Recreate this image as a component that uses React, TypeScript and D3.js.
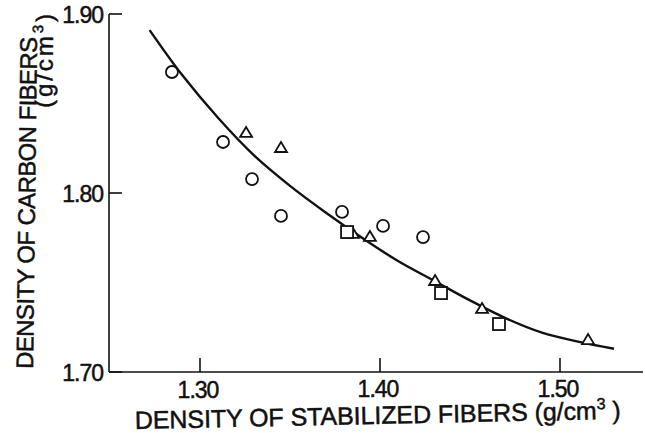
import React from "react";
import * as d3 from "d3";

const xTicks = [1.3, 1.4, 1.5];
const yTicks = [1.7, 1.8, 1.9];
const xTickLabels = ["1.30", "1.40", "1.50"];
const yTickLabels = ["1.70", "1.80", "1.90"];

const circleX = [1.2844, 1.3128, 1.3289, 1.345, 1.3789, 1.4017, 1.4239];
const circleY = [1.8676, 1.8285, 1.8078, 1.7872, 1.7894, 1.7816, 1.7754];

const triangleX = [1.3256, 1.345, 1.385, 1.3944, 1.4306, 1.4567, 1.5156];
const triangleY = [1.8341, 1.8257, 1.7777, 1.776, 1.7514, 1.7358, 1.7184];

const squareX = [1.3817, 1.4339, 1.4661];
const squareY = [1.7782, 1.7441, 1.7268];

const curveX = [1.272, 1.29, 1.31, 1.33, 1.35, 1.37, 1.39, 1.41, 1.43, 1.45, 1.47, 1.49, 1.51, 1.53];
const curveY = [1.891, 1.866, 1.842, 1.821, 1.804, 1.789, 1.775, 1.762, 1.751, 1.74, 1.73, 1.722, 1.717, 1.713];

const xTitleMain = "DENSITY OF  STABILIZED  FIBERS (g/cm";
const yTitle1 = "DENSITY OF CARBON FIBERS";
const yTitle2 = "(g/cm";
const sup = "3";
const closeParen = ")";

export default function App() {
  const W = 645;
  const H = 433;
  const x = d3.scaleLinear().domain([1.3, 1.5]).range([200, 560]);
  const y = d3.scaleLinear().domain([1.7, 1.9]).range([372, 14]);
  const x0 = 109;
  const xEnd = 643;
  const y0 = 372;

  const line = d3
    .line<number>()
    .x((_, i) => x(curveX[i]))
    .y((d) => y(d))
    .curve(d3.curveCatmullRom.alpha(0.5));

  const font = "'Liberation Sans', Arial, sans-serif";
  const stroke = "#111";
  const tStroke = { stroke: stroke, strokeWidth: 0.5 };

  const tri = (cx: number, cy: number) => {
    const s = 12;
    const h = 10;
    return `M${cx - s / 2},${cy + h / 2} L${cx + s / 2},${cy + h / 2} L${cx},${cy - h / 2} Z`;
  };

  return (
    <svg
      width={W}
      height={H}
      style={{ position: "absolute", left: 0, top: 0, background: "#fff" }}
      fontFamily={font}
    >
      <rect width={W} height={H} fill="#fff" />
      {/* axes */}
      <line x1={x0} y1={y(1.9)} x2={x0} y2={y0} stroke={stroke} strokeWidth={1.6} />
      <line x1={x0} y1={y0} x2={xEnd} y2={y0} stroke={stroke} strokeWidth={1.6} />
      {yTicks.map((t, i) => (
        <g key={"yt" + i}>
          <line x1={x0} x2={x0 + 13} y1={y(t)} y2={y(t)} stroke={stroke} strokeWidth={1.6} />
          <text
            x={103}
            y={y(t) + 8.5}
            textAnchor="end"
            fontSize={23}
            fill={stroke}
            letterSpacing={-1}
            {...tStroke}
          >
            {yTickLabels[i]}
          </text>
        </g>
      ))}
      {xTicks.map((t, i) => (
        <g key={"xt" + i}>
          <line x1={x(t)} x2={x(t)} y1={y0} y2={y0 - 14} stroke={stroke} strokeWidth={1.6} />
          <text
            x={x(t) - 2}
            y={397 + (i === 0 ? 1 : 0)}
            textAnchor="middle"
            fontSize={23}
            fill={stroke}
            letterSpacing={-1}
            {...tStroke}
          >
            {xTickLabels[i]}
          </text>
        </g>
      ))}
      {/* x title (slightly skewed like the scanned original) */}
      <text
        transform="translate(135,429) rotate(-1.2)"
        fontSize={25}
        fill={stroke}
        textLength={486}
        lengthAdjust="spacing"
        {...tStroke}
      >
        <tspan>{xTitleMain}</tspan>
        <tspan fontSize={16} dy={-10}>{sup}</tspan>
        <tspan dy={10}>{" " + closeParen}</tspan>
      </text>

      {/* y title */}
      <text
        transform="translate(33,369) rotate(-89.3)"
        fontSize={24}
        fill={stroke}
        textLength={332}
        lengthAdjust="spacing"
        {...tStroke}
      >
        {yTitle1}
      </text>
      <text
        transform="translate(52,108) rotate(-89.3)"
        fontSize={24}
        fill={stroke}
        textLength={94}
        lengthAdjust="spacing"
        {...tStroke}
      >
        <tspan>{yTitle2}</tspan>
        <tspan fontSize={15} dy={-10}>{sup}</tspan>
        <tspan dy={10}>{closeParen}</tspan>
      </text>

      {/* fitted curve */}
      <path d={line(curveY) || ""} fill="none" stroke={stroke} strokeWidth={2.4} />

      {/* markers */}
      {circleX.map((v, i) => (
        <circle
          key={"c" + i}
          cx={x(v)}
          cy={y(circleY[i])}
          r={6}
          fill="#fff"
          stroke={stroke}
          strokeWidth={1.8}
        />
      ))}
      {triangleX.map((v, i) => (
        <path key={"t" + i} d={tri(x(v), y(triangleY[i]))} fill="#fff" stroke={stroke} strokeWidth={1.8} />
      ))}
      {squareX.map((v, i) => (
        <rect
          key={"s" + i}
          x={x(v) - 6}
          y={y(squareY[i]) - 6}
          width={12}
          height={12}
          fill="#fff"
          stroke={stroke}
          strokeWidth={1.8}
        />
      ))}
    </svg>
  );
}
